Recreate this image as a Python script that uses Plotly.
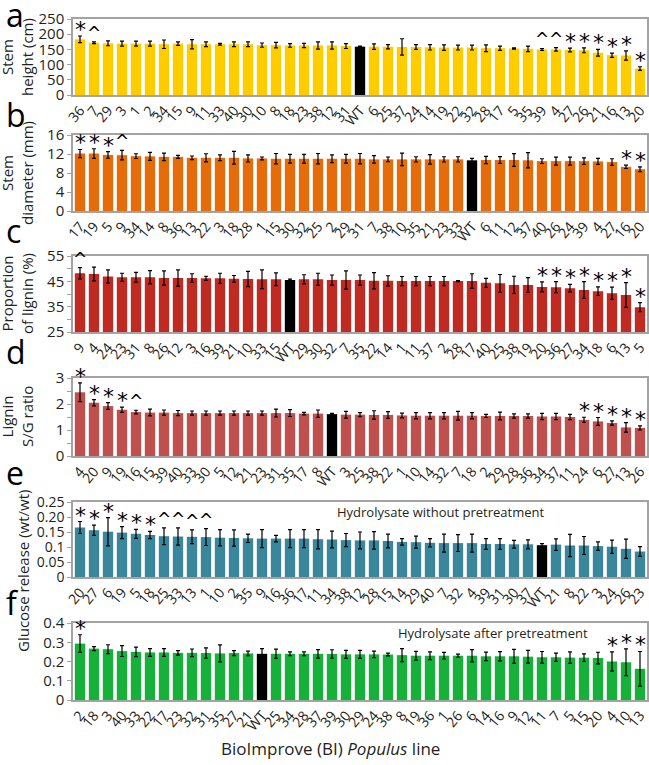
import plotly.graph_objects as go

W, H = 649, 765


def px(x):
    return x / W


def py(y):
    return 1 - y / H


# a - stem height (cm)
a_lines = ['36', '7', '29', '3', '1', '2', '34', '15', '9', '11', '33', '40', '30', '10', '8', '18', '23', '38', '12', '31',
           'WT', '6', '25', '37', '24', '14', '19', '22', '32', '28', '17', '5', '35', '39', '4', '27', '26', '21', '16', '13', '20']
a_vals = [183, 172, 170, 169, 169, 169, 167, 169, 167, 167, 167, 167, 167, 164, 164, 163, 163, 163, 163, 161,
          159, 159, 159, 158, 158, 157, 156, 156, 156, 154, 154, 153, 152, 150, 150, 148, 147, 139, 131, 130, 87]
a_err = [11, 3, 8, 8, 8, 8, 14, 6, 15, 8, 3, 8, 8, 7, 9, 6, 7, 12, 12, 8,
         2, 9, 7, 27, 8, 9, 9, 8, 8, 11, 7, 2, 9, 3, 6, 6, 8, 11, 7, 15, 6]
a_marks = {'36': '*', '7': '^', '39': '^', '4': '^', '27': '*', '26': '*', '21': '*', '16': '*', '13': '*', '20': '*'}

# b - stem diameter (mm)
b_lines = ['17', '19', '5', '9', '34', '14', '8', '36', '13', '22', '3', '18', '28', '1', '15', '30', '32', '25', '2', '29',
           '31', '7', '38', '10', '35', '21', '23', '33', 'WT', '6', '11', '12', '37', '40', '26', '24', '39', '4', '27', '16', '20']
b_vals = [12.1, 12.1, 11.8, 11.75, 11.55, 11.5, 11.4, 11.4, 11.2, 11.2, 11.2, 11.2, 11.07, 11.07, 11.0, 11.0, 11.0, 11.0, 11.0, 11.0,
          11.0, 10.87, 10.87, 10.87, 10.87, 10.87, 10.87, 10.87, 10.67, 10.73, 10.73, 10.73, 10.67, 10.5, 10.5, 10.5, 10.5, 10.45, 10.3, 9.3, 8.8]
b_err = [0.85, 1.0, 0.7, 1.0, 0.5, 0.85, 0.8, 0.3, 0.38, 0.85, 0.6, 1.35, 0.75, 0.3, 1.1, 0.9, 0.9, 1.1, 0.8, 0.9,
         1.1, 0.8, 0.5, 1.3, 0.55, 1.0, 0.55, 0.55, 0.4, 0.75, 0.7, 1.35, 1.6, 0.5, 0.85, 0.85, 0.7, 0.65, 0.7, 0.35, 0.5]
b_marks = {'17': '*', '19': '*', '5': '*', '9': '^', '16': '*', '20': '*'}

# c - proportion of lignin (%)
c_lines = ['9', '4', '24', '23', '31', '8', '26', '12', '3', '16', '39', '21', '10', '33', '15', 'WT', '29', '30', '32', '7',
           '35', '22', '14', '1', '11', '37', '2', '28', '17', '40', '25', '38', '19', '20', '36', '27', '34', '18', '6', '13', '5']
c_vals = [48.2, 47.9, 46.9, 46.6, 46.6, 46.6, 46.3, 46.3, 46.3, 46.2, 46.2, 46.0, 45.9, 45.8, 45.8, 45.5, 45.8, 45.8, 45.5, 45.5,
          45.5, 45.2, 45.2, 45.1, 45.1, 45.1, 45.1, 45.1, 45.1, 44.4, 44.2, 43.6, 43.6, 42.8, 42.7, 42.3, 41.6, 41.1, 40.3, 39.6, 34.8]
c_err = [2.2, 2.7, 2.6, 1.6, 1.9, 2.6, 2.8, 3.2, 1.7, 0.8, 2.0, 1.3, 3.0, 3.7, 2.5, 0.4, 1.8, 2.4, 2.0, 3.6,
         2.0, 3.2, 2.0, 1.8, 1.8, 1.8, 1.8, 0.2, 2.9, 1.8, 3.5, 3.4, 2.9, 2.0, 2.2, 1.5, 3.3, 1.7, 2.4, 4.9, 1.8]
c_marks = {'9': '^', '20': '*', '36': '*', '27': '*', '34': '*', '18': '*', '6': '*', '13': '*', '5': '*'}

# d - lignin S/G ratio
d_lines = ['4', '20', '9', '19', '16', '15', '39', '40', '33', '30', '5', '12', '21', '23', '31', '35', '17', '8', 'WT', '3',
           '25', '38', '22', '1', '10', '14', '32', '7', '18', '2', '29', '28', '36', '34', '37', '11', '24', '6', '27', '13', '26']
d_vals = [2.45, 2.05, 1.92, 1.78, 1.69, 1.67, 1.67, 1.65, 1.65, 1.65, 1.65, 1.65, 1.65, 1.65, 1.65, 1.65, 1.63, 1.63, 1.61, 1.59,
          1.59, 1.58, 1.58, 1.56, 1.55, 1.55, 1.55, 1.55, 1.55, 1.54, 1.54, 1.54, 1.54, 1.52, 1.52, 1.50, 1.39, 1.33, 1.27, 1.10, 1.08]
d_err = [0.36, 0.12, 0.13, 0.1, 0.07, 0.13, 0.1, 0.1, 0.08, 0.08, 0.08, 0.08, 0.08, 0.08, 0.15, 0.13, 0.05, 0.14, 0.03, 0.13,
         0.08, 0.16, 0.13, 0.09, 0.12, 0.12, 0.12, 0.17, 0.12, 0.06, 0.15, 0.08, 0.08, 0.12, 0.12, 0.1, 0.1, 0.15, 0.08, 0.18, 0.08]
d_marks = {'4': '*', '20': '*', '9': '*', '19': '*', '16': '^', '24': '*', '6': '*', '27': '*', '13': '*', '26': '*'}

# e - glucose release, no pretreatment
e_lines = ['20', '27', '6', '19', '5', '18', '25', '33', '13', '1', '10', '2', '35', '9', '16', '36', '17', '11', '34', '38',
           '12', '28', '15', '14', '29', '40', '7', '32', '4', '39', '31', '30', '37', 'WT', '21', '8', '22', '3', '24', '26', '23']
e_vals = [0.165, 0.156, 0.151, 0.148, 0.144, 0.14, 0.136, 0.135, 0.134, 0.133, 0.131, 0.13, 0.129, 0.128, 0.128, 0.128, 0.128, 0.126, 0.125, 0.123,
          0.122, 0.122, 0.12, 0.117, 0.116, 0.114, 0.113, 0.113, 0.113, 0.11, 0.11, 0.109, 0.109, 0.106, 0.108, 0.105, 0.105, 0.103, 0.101, 0.094, 0.085]
e_err = [0.02, 0.017, 0.047, 0.02, 0.015, 0.012, 0.028, 0.029, 0.023, 0.028, 0.027, 0.027, 0.014, 0.03, 0.011, 0.03, 0.03, 0.032, 0.028, 0.022,
         0.028, 0.029, 0.023, 0.011, 0.02, 0.014, 0.03, 0.028, 0.03, 0.018, 0.018, 0.013, 0.015, 0.005, 0.019, 0.037, 0.03, 0.014, 0.022, 0.032, 0.016]
e_marks = {'20': '*', '27': '*', '6': '*', '19': '*', '5': '*', '18': '*', '25': '^', '33': '^', '13': '^', '1': '^'}

# f - glucose release, after pretreatment
f_lines = ['2', '18', '3', '40', '33', '22', '17', '23', '32', '31', '35', '27', '21', 'WT', '25', '34', '28', '37', '39', '30',
           '29', '24', '38', '8', '19', '36', '1', '26', '6', '14', '16', '9', '12', '11', '7', '5', '15', '20', '4', '10', '13']
f_vals = [0.293, 0.267, 0.264, 0.254, 0.25, 0.247, 0.247, 0.245, 0.245, 0.244, 0.242, 0.244, 0.242, 0.24, 0.24, 0.24, 0.24, 0.24, 0.239, 0.237,
          0.237, 0.237, 0.236, 0.233, 0.23, 0.23, 0.23, 0.23, 0.23, 0.227, 0.227, 0.227, 0.225, 0.222, 0.222, 0.22, 0.22, 0.218, 0.2, 0.196, 0.162]
f_err = [0.046, 0.01, 0.023, 0.028, 0.025, 0.02, 0.02, 0.012, 0.02, 0.027, 0.044, 0.013, 0.012, 0.027, 0.024, 0.01, 0.01, 0.022, 0.022, 0.021,
         0.021, 0.017, 0.007, 0.034, 0.023, 0.02, 0.017, 0.008, 0.032, 0.022, 0.024, 0.036, 0.033, 0.03, 0.021, 0.03, 0.02, 0.03, 0.05, 0.07, 0.09]
f_marks = {'2': '*', '4': '*', '10': '*', '13': '*'}

FONT = 'Open Sans'
FRAME = '#a3a3a3'

panels = [
    dict(lines=a_lines, vals=a_vals, err=a_err, marks=a_marks, color='#FFCC00', rng=[0, 250],
         tv=[0, 50, 100, 150, 200, 250], tt=None, minor=None, top=19, bot=95, tfs=15,
         title='Stem<br>height (cm)', letter='a', ly=12),
    dict(lines=b_lines, vals=b_vals, err=b_err, marks=b_marks, color='#E46C0A', rng=[0, 16],
         tv=[0, 4, 8, 12, 16], tt=None, minor=None, top=135, bot=211, tfs=15,
         title='Stem<br>diameter (mm)', letter='b', ly=112),
    dict(lines=c_lines, vals=c_vals, err=c_err, marks=c_marks, color='#BF2A22', rng=[25, 55],
         tv=[25, 35, 45, 55], tt=None, minor=[30, 40, 50], top=256, bot=332, tfs=15,
         title='Proportion<br>of lignin (%)', letter='c', ly=228),
    dict(lines=d_lines, vals=d_vals, err=d_err, marks=d_marks, color='#C0504D', rng=[0, 3],
         tv=[0, 1, 2, 3], tt=None, minor=[0.5, 1.5, 2.5], top=378, bot=456, tfs=15,
         title='Lignin<br>S/G ratio', letter='d', ly=350),
    dict(lines=e_lines, vals=e_vals, err=e_err, marks=e_marks, color='#3A869B', rng=[0, 0.25],
         tv=[0, 0.05, 0.1, 0.15, 0.2, 0.25], tt=['0', '0.05', '0.1', '0.15', '0.20', '0.25'], minor=None,
         top=502, bot=577, tfs=14, title=None, letter='e', ly=470),
    dict(lines=f_lines, vals=f_vals, err=f_err, marks=f_marks, color='#16B03A', rng=[0, 0.4],
         tv=[0, 0.1, 0.2, 0.3, 0.4], tt=['0', '0.1', '0.2', '0.3', '0.4'], minor=None,
         top=623, bot=700, tfs=15, title=None, letter='f', ly=600),
]

fig = go.Figure()
annos = []
for i, p in enumerate(panels, start=1):
    sfx = '' if i == 1 else str(i)
    pos = list(range(len(p['lines'])))  # bar slot of each line, in listed order
    colors = ['#000000' if l == 'WT' else p['color'] for l in p['lines']]
    fig.add_trace(go.Bar(
        x=pos, y=p['vals'], customdata=p['lines'],
        error_y=dict(type='data', array=p['err'], color='black', thickness=1.2, width=2),
        marker=dict(color=colors, line=dict(width=0)),
        xaxis='x' + sfx, yaxis='y' + sfx, showlegend=False, width=0.74,
    ))
    yaxis = dict(domain=[py(p['bot']), py(p['top'])], range=p['rng'], anchor='x' + sfx,
                 showline=True, mirror=True, linecolor=FRAME, linewidth=1.5,
                 ticks='outside', ticklen=4, tickcolor=FRAME, tickwidth=1.2,
                 tickvals=p['tv'], tickfont=dict(size=p['tfs'], color='#231f20'),
                 showgrid=False, zeroline=False, automargin=False)
    if p['tt']:
        yaxis['ticktext'] = p['tt']
    if p['minor']:
        yaxis['minor'] = dict(tickvals=p['minor'], ticks='outside', ticklen=4, tickcolor=FRAME, tickwidth=1.2)
    xaxis = dict(domain=[px(73), px(647)], type='linear', tickmode='array', tickvals=pos, ticktext=p['lines'],
                 range=[-0.5, len(pos) - 0.5], anchor='y' + sfx, showline=True, mirror=True, linecolor=FRAME,
                 linewidth=1.5, ticks='', tickangle=-50, tickfont=dict(size=14, color='#231f20'),
                 showgrid=False, zeroline=False, automargin=False)
    fig.update_layout(**{'xaxis' + sfx: xaxis, 'yaxis' + sfx: yaxis})

    for k, (l, v, e) in enumerate(zip(p['lines'], p['vals'], p['err'])):
        m = p['marks'].get(l)
        if not m:
            continue
        annos.append(dict(x=k, y=v + e, xref='x' + sfx, yref='y' + sfx, text=m, showarrow=False,
                          xanchor='center', yanchor='bottom', yshift=-8 if m == '*' else -3,
                          font=dict(size=22 if m == '*' else 17, family='DejaVu Sans', color='black')))
    annos.append(dict(x=px(4), y=py(p['ly'] + 2), xref='paper', yref='paper', text=p['letter'], showarrow=False,
                      xanchor='left', yanchor='middle', font=dict(size=32, family=FONT, color='black')))
    if p['title']:
        annos.append(dict(x=px(17), y=py((p['top'] + p['bot']) / 2), xref='paper', yref='paper', text=p['title'],
                          showarrow=False, textangle=-90, xanchor='center', yanchor='middle',
                          font=dict(size=15, family=FONT, color='#231f20')))

annos.append(dict(x=px(23), y=py(571), xref='paper', yref='paper', text='Glucose release (wt/wt)',
                  showarrow=False, textangle=-90, xanchor='center', yanchor='middle',
                  font=dict(size=15, family=FONT, color='#231f20')))
annos.append(dict(x=px(440), y=py(512), xref='paper', yref='paper', text='Hydrolysate without pretreatment',
                  showarrow=False, xanchor='center', yanchor='middle', font=dict(size=13, family=FONT, color='#231f20')))
annos.append(dict(x=px(493), y=py(633), xref='paper', yref='paper', text='Hydrolysate after pretreatment',
                  showarrow=False, xanchor='center', yanchor='middle', font=dict(size=13, family=FONT, color='#231f20')))
annos.append(dict(x=px(330), y=py(748), xref='paper', yref='paper', text='BioImprove (BI) <i>Populus</i> line',
                  showarrow=False, xanchor='center', yanchor='middle', font=dict(size=17, family=FONT, color='#231f20')))

fig.update_layout(width=W, height=H, margin=dict(l=0, r=0, t=0, b=0), bargap=0.26,
                  plot_bgcolor='white', paper_bgcolor='white', annotations=annos,
                  font=dict(family=FONT, color='#231f20'))
# the page body has a default 8px margin; drop it so the figure fills the window
fig.write_html('out.html', config={'displayModeBar': False},
               post_script="document.body.style.margin='0px';")
